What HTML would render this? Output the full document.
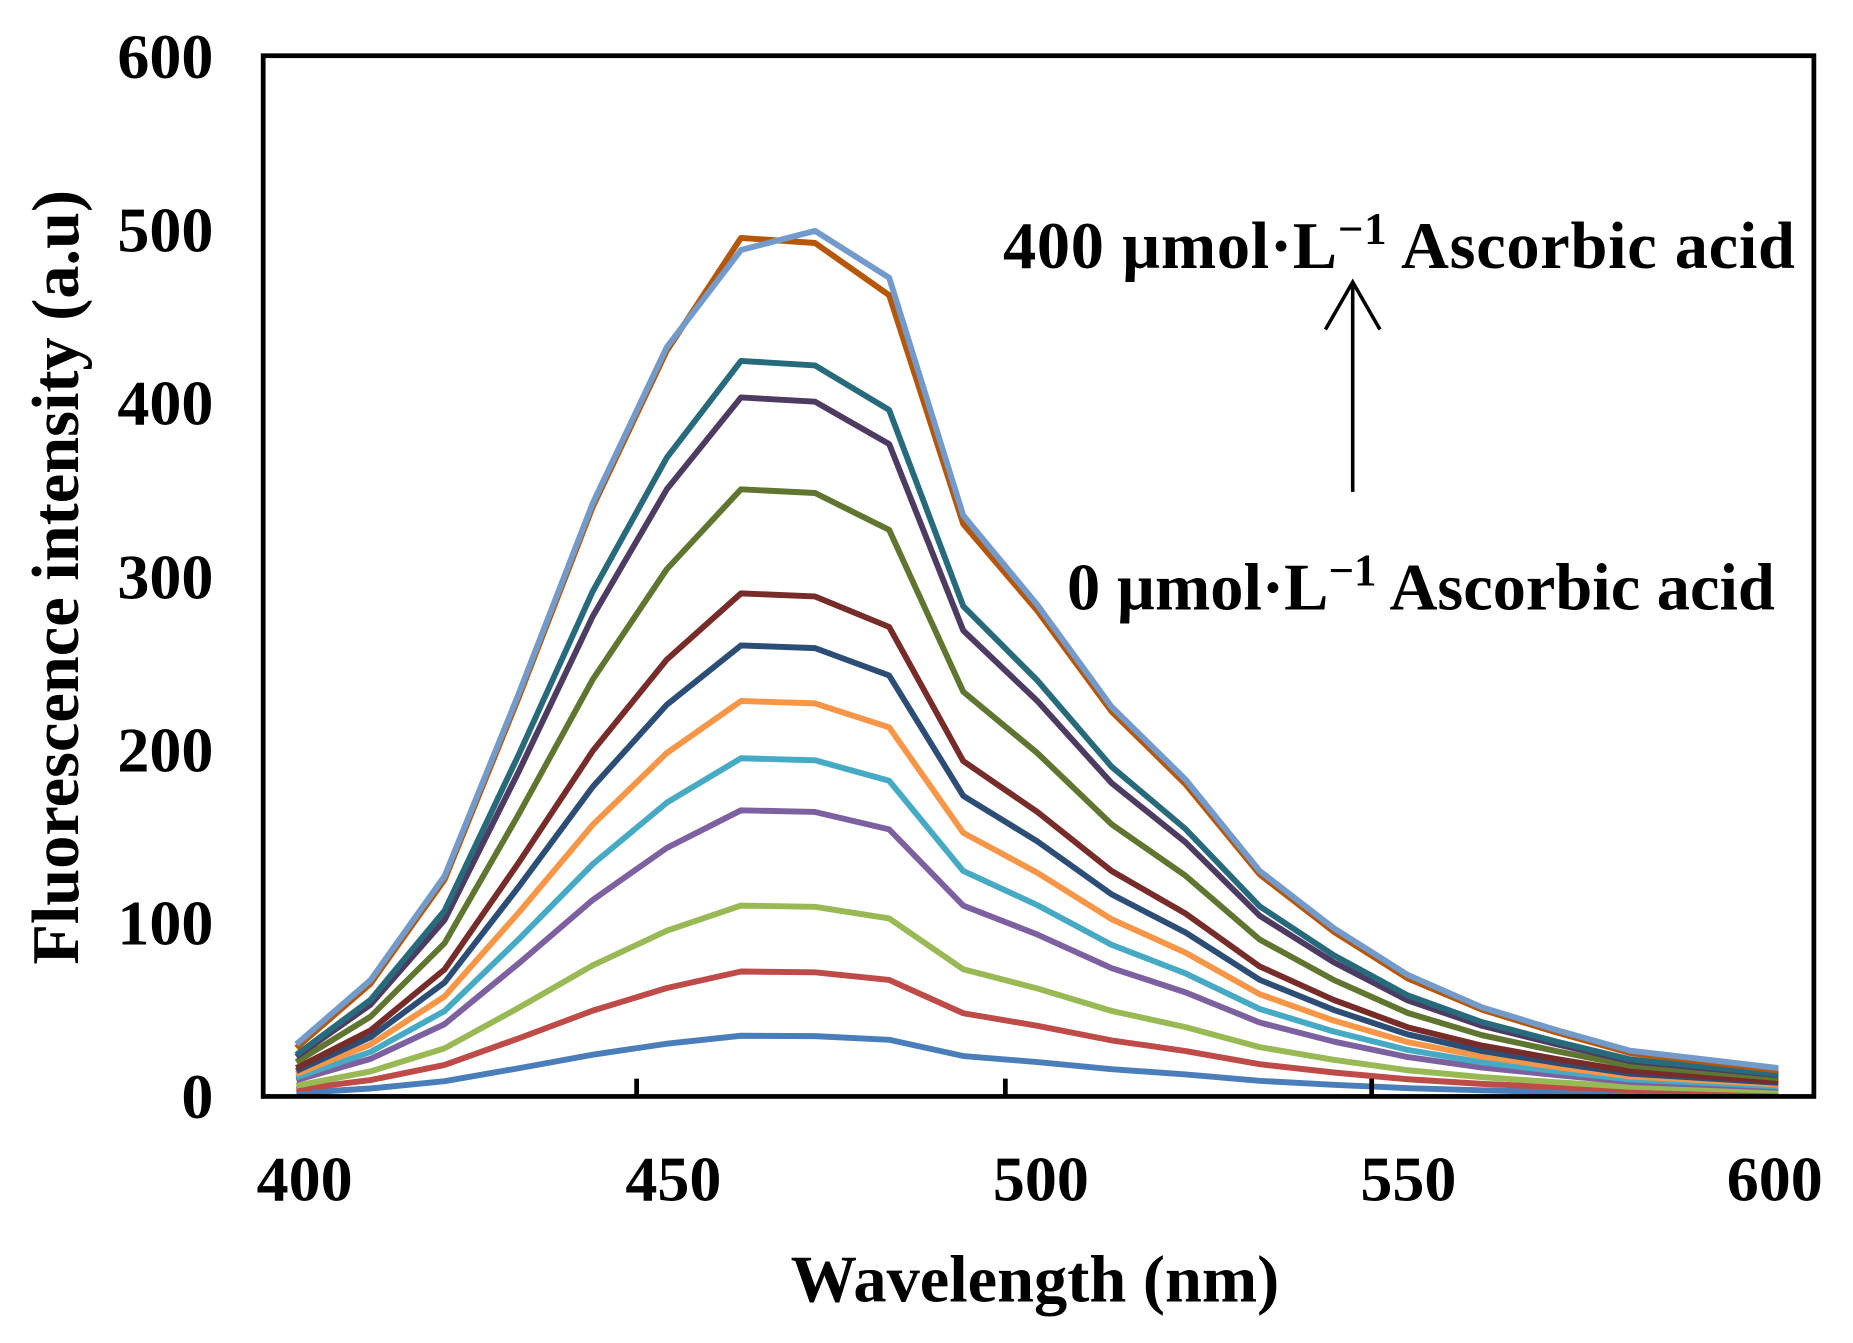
<!DOCTYPE html>
<html><head><meta charset="utf-8"><style>html,body{margin:0;padding:0;background:#fff}svg{display:block}</style></head>
<body>
<svg width="1853" height="1343" viewBox="0 0 1563 1133" preserveAspectRatio="none" xmlns="http://www.w3.org/2000/svg" font-family="Liberation Serif, serif" font-weight="bold">
<rect width="1563" height="1133" fill="#fff"/>
<g fill="none" stroke-width="5" stroke-linejoin="round">
<polyline stroke="#4a7ebb" points="250,922.1 312.5,918.3 375,912.1 437.5,901.2 500,889.8 562.5,880.5 625,873.8 687.5,874.1 750,877.2 812.5,890.9 875,896 937.5,902 1000,906.4 1062.5,911.8 1125,915.2 1187.5,918 1250,919.8 1312.5,921.2 1375,922.4 1437.5,922.9 1500,923.4"/>
<polyline stroke="#be4b48" points="250,919 312.5,911.2 375,898.4 437.5,876 500,852.6 562.5,833.5 625,819.6 687.5,820.3 750,826.7 812.5,854.8 875,865.4 937.5,877.7 1000,886.7 1062.5,897.8 1125,904.8 1187.5,910.5 1250,914.4 1312.5,917.1 1375,919.7 1437.5,920.7 1500,921.8"/>
<polyline stroke="#98b954" points="250,915.9 312.5,903.9 375,884.4 437.5,850.2 500,814.4 562.5,785.2 625,764 687.5,765 750,774.8 812.5,817.7 875,833.9 937.5,852.8 1000,866.5 1062.5,883.4 1125,894.1 1187.5,902.9 1250,908.7 1312.5,913 1375,916.9 1437.5,918.5 1500,920.1"/>
<polyline stroke="#7d60a0" points="250,911.3 312.5,893.3 375,864 437.5,812.8 500,759.2 562.5,715.3 625,683.6 687.5,685 750,699.7 812.5,764 875,788.4 937.5,816.7 1000,837.2 1062.5,862.6 1125,878.7 1187.5,891.8 1250,900.6 1312.5,907 1375,912.8 1437.5,915.2 1500,917.7"/>
<polyline stroke="#46aac5" points="250,908.9 312.5,887.5 375,852.9 437.5,792.4 500,729 562.5,677.1 625,639.7 687.5,641.4 750,658.7 812.5,734.8 875,763.6 937.5,797 1000,821.2 1062.5,851.2 1125,870.2 1187.5,885.8 1250,896.2 1312.5,903.7 1375,910.6 1437.5,913.5 1500,916.4"/>
<polyline stroke="#f79646" points="250,906.1 312.5,881.2 375,840.7 437.5,770 500,695.8 562.5,635.2 625,591.4 687.5,593.4 750,613.6 812.5,702.6 875,736.3 937.5,775.4 1000,803.7 1062.5,838.7 1125,861 1187.5,879.2 1250,891.3 1312.5,900.1 1375,908.1 1437.5,911.5 1500,914.9"/>
<polyline stroke="#2c4d75" points="250,903.5 312.5,875 375,828.9 437.5,748.2 500,663.7 562.5,594.5 625,544.5 687.5,546.8 750,569.9 812.5,671.4 875,709.8 937.5,754.4 1000,786.7 1062.5,826.6 1125,852 1187.5,872.7 1250,886.6 1312.5,896.6 1375,905.8 1437.5,909.6 1500,913.5"/>
<polyline stroke="#772c2a" points="250,901 312.5,869.3 375,817.8 437.5,727.8 500,633.5 562.5,556.4 625,500.6 687.5,503.2 750,528.9 812.5,642.1 875,685 937.5,734.7 1000,770.7 1062.5,815.3 1125,843.6 1187.5,866.7 1250,882.1 1312.5,893.3 1375,903.6 1437.5,907.9 1500,912.1"/>
<polyline stroke="#5f7530" points="250,896 312.5,857.7 375,795.7 437.5,687 500,573.2 562.5,480.1 625,412.8 687.5,415.9 750,447 812.5,583.6 875,635.3 937.5,695.3 1000,738.8 1062.5,792.6 1125,826.7 1187.5,854.6 1250,873.3 1312.5,886.7 1375,899.1 1437.5,904.3 1500,909.5"/>
<polyline stroke="#4d3b62" points="250,891.6 312.5,847.6 375,776.1 437.5,651 500,519.9 562.5,412.7 625,335.3 687.5,338.9 750,374.6 812.5,531.9 875,591.4 937.5,660.5 1000,710.6 1062.5,772.5 1125,811.8 1187.5,844 1250,865.4 1312.5,880.9 1375,895.2 1437.5,901.2 1500,907.1"/>
<polyline stroke="#276a7c" points="250,889.9 312.5,843.5 375,768.3 437.5,636.7 500,498.8 562.5,386 625,304.5 687.5,308.3 750,345.9 812.5,511.4 875,574 937.5,646.7 1000,699.4 1062.5,764.6 1125,805.9 1187.5,839.8 1250,862.3 1312.5,878.6 1375,893.7 1437.5,899.9 1500,906.2"/>
<polyline stroke="#b65708" points="250,884 312.5,829.9 375,742.1 437.5,588.4 500,427.5 562.5,295.8 625,200.7 687.5,205 750,249 812.5,442.1 875,515.3 937.5,600.1 1000,661.6 1062.5,737.7 1125,786 1187.5,825.5 1250,851.8 1312.5,870.9 1375,888.4 1437.5,895.7 1500,903.1"/>
<polyline stroke="#729aca" points="250,881 312.5,826.9 375,739.1 437.5,585.4 500,424.5 562.5,292.8 625,210.9 687.5,194.8 750,234.3 812.5,434.8 875,510.3 937.5,596.1 1000,657.6 1062.5,734.7 1125,783 1187.5,822.5 1250,849.8 1312.5,868.9 1375,886.4 1437.5,893.7 1500,901.1"/>
</g>
<rect x="222" y="47" width="1308" height="878" fill="none" stroke="#000" stroke-width="4"/>
<g stroke="#000" stroke-width="4">
<line x1="537" y1="925" x2="537" y2="910"/><line x1="848" y1="925" x2="848" y2="910"/><line x1="1157" y1="925" x2="1157" y2="910"/>
</g>
<g font-size="54" text-anchor="end">
<text x="180" y="66">600</text><text x="180" y="212">500</text><text x="180" y="358">400</text>
<text x="180" y="505">300</text><text x="180" y="651">200</text><text x="180" y="797">100</text><text x="180" y="943">0</text>
</g>
<g font-size="54" text-anchor="middle">
<text x="257" y="1013">400</text><text x="568" y="1013">450</text><text x="878" y="1013">500</text><text x="1188" y="1013">550</text><text x="1497" y="1013">600</text>
</g>
<text x="873" y="1098" font-size="56" text-anchor="middle">Wavelength (nm)</text>
<text transform="translate(66,487) rotate(-90)" font-size="56" text-anchor="middle">Fluorescence intensity (a.u)</text>
<text x="846" y="226" font-size="56" textLength="668">400 µmol·L<tspan dy="-20" font-size="38">−1</tspan><tspan dy="20"> Ascorbic acid</tspan></text>
<text x="900" y="514" font-size="56">0 µmol·L<tspan dy="-20" font-size="38">−1</tspan><tspan dy="20"> Ascorbic acid</tspan></text>
<g stroke="#000" stroke-width="3" fill="none">
<line x1="1141" y1="415" x2="1141" y2="238"/><polyline points="1118,278 1141,238 1164,278"/>
</g>
</svg>
</body></html>
